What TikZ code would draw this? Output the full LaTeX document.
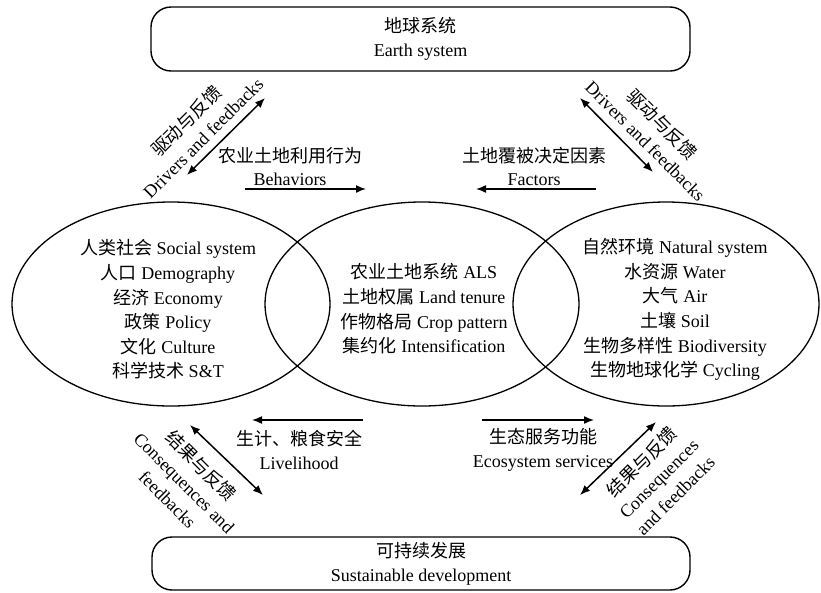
\documentclass[tikz,border=0pt]{standalone}
\usepackage{fontspec}
\setmainfont{Liberation Serif}
\newfontfamily\cjk{Noto Sans CJK SC}
\usetikzlibrary{arrows.meta,shapes.geometric}
\newcommand\zh[1]{{\cjk #1}}
\begin{document}
\begin{tikzpicture}[x=1pt,y=-1pt,
  txt/.style={font=\fontsize{18}{24.6}\selectfont, align=center, inner sep=0pt},
  lbl/.style={font=\fontsize{18}{23.5}\selectfont, align=center, inner sep=0pt},
  box/.style={draw, line width=1.4pt, rounded corners=20pt, rectangle, inner sep=0pt,
              font=\fontsize{18}{24}\selectfont, align=center},
  venn/.style={draw, ellipse, line width=1.3pt, inner sep=0pt},
  tip/.style={Latex[length=10pt,width=8pt]},
  arr/.style={-{Latex[length=10pt,width=8pt]}, line width=1.5pt},
  darr/.style={{Latex[length=10pt,width=8pt]}-{Latex[length=10pt,width=8pt]}, line width=1.5pt}]
\useasboundingbox (0,0) rectangle (821,592);

% boxes
\node[box, minimum width=539pt, minimum height=64pt] (earth) at (420.5,39) {\zh{地球系统}\\Earth system};
\node[box, minimum width=538pt, minimum height=53pt] (sust) at (421,563.5) {\zh{可持续发展}\\Sustainable development};

% ellipses
\node[venn, minimum width=318pt, minimum height=204pt] (soc) at (171,304) {};
\node[venn, minimum width=314pt, minimum height=204pt] (als) at (422,304) {};
\node[venn, minimum width=306pt, minimum height=204pt] (nat) at (666,304) {};

% ellipse texts
\node[txt] (soctxt) at (168,309.5) {\zh{人类社会} Social system\\\zh{人口} Demography\\\zh{经济} Economy\\\zh{政策} Policy\\\zh{文化} Culture\\\zh{科学技术} S\&T};
\node[txt] (alstxt) at (424,309) {\zh{农业土地系统} ALS\\\zh{土地权属} Land tenure\\\zh{作物格局} Crop pattern\\\zh{集约化} Intensification};
\node[txt] (nattxt) at (675,309.5) {\zh{自然环境} Natural system\\\zh{水资源} Water\\\zh{大气} Air\\\zh{土壤} Soil\\\zh{生物多样性} Biodiversity\\\zh{生物地球化学} Cycling};

% horizontal labels and arrows
\node[lbl] (beh) at (290,166.5) {\zh{农业土地利用行为}\\Behaviors};
\node[lbl] (fac) at (534,166.5) {\zh{土地覆被决定因素}\\Factors};
\node[lbl] (liv) at (299,450) {\zh{生计、粮食安全}\\Livelihood};
\node[lbl] (eco) at (543,450) {\zh{生态服务功能}\\Ecosystem services};

\coordinate (b1) at (245,189); \coordinate (b2) at (366,189);
\coordinate (f1) at (596,189); \coordinate (f2) at (476,189);
\coordinate (l1) at (363,420); \coordinate (l2) at (252,420);
\coordinate (e1) at (482,420); \coordinate (e2) at (594,420);
\draw[arr] (b1) -- (b2);
\draw[arr] (f1) -- (f2);
\draw[arr] (l1) -- (l2);
\draw[arr] (e1) -- (e2);

% diagonal arrows
\coordinate (tl1) at (187,175); \coordinate (tl2) at (265,98);
\coordinate (tr1) at (580,98);  \coordinate (tr2) at (653,172);
\coordinate (bl1) at (190,425); \coordinate (bl2) at (263,495);
\coordinate (br1) at (580,495); \coordinate (br2) at (656,422);
\draw[darr] (tl1) -- (tl2);
\draw[darr] (tr1) -- (tr2);
\draw[darr] (bl1) -- (bl2);
\draw[darr] (br1) -- (br2);

% diagonal labels
\node[lbl, rotate=45] (tllbl) at (194,129) {\zh{驱动与反馈}\\Drivers and feedbacks};
\node[lbl, rotate=-45] (trlbl) at (654.5,132) {\zh{驱动与反馈}\\Drivers and feedbacks};
\node[lbl, rotate=-45] (bllbl) at (185,482) {\zh{结果与反馈}\\Consequences and\\feedbacks};
\node[lbl, rotate=45] (brlbl) at (658,478) {\zh{结果与反馈}\\Consequences\\and feedbacks};
\end{tikzpicture}
\end{document}
